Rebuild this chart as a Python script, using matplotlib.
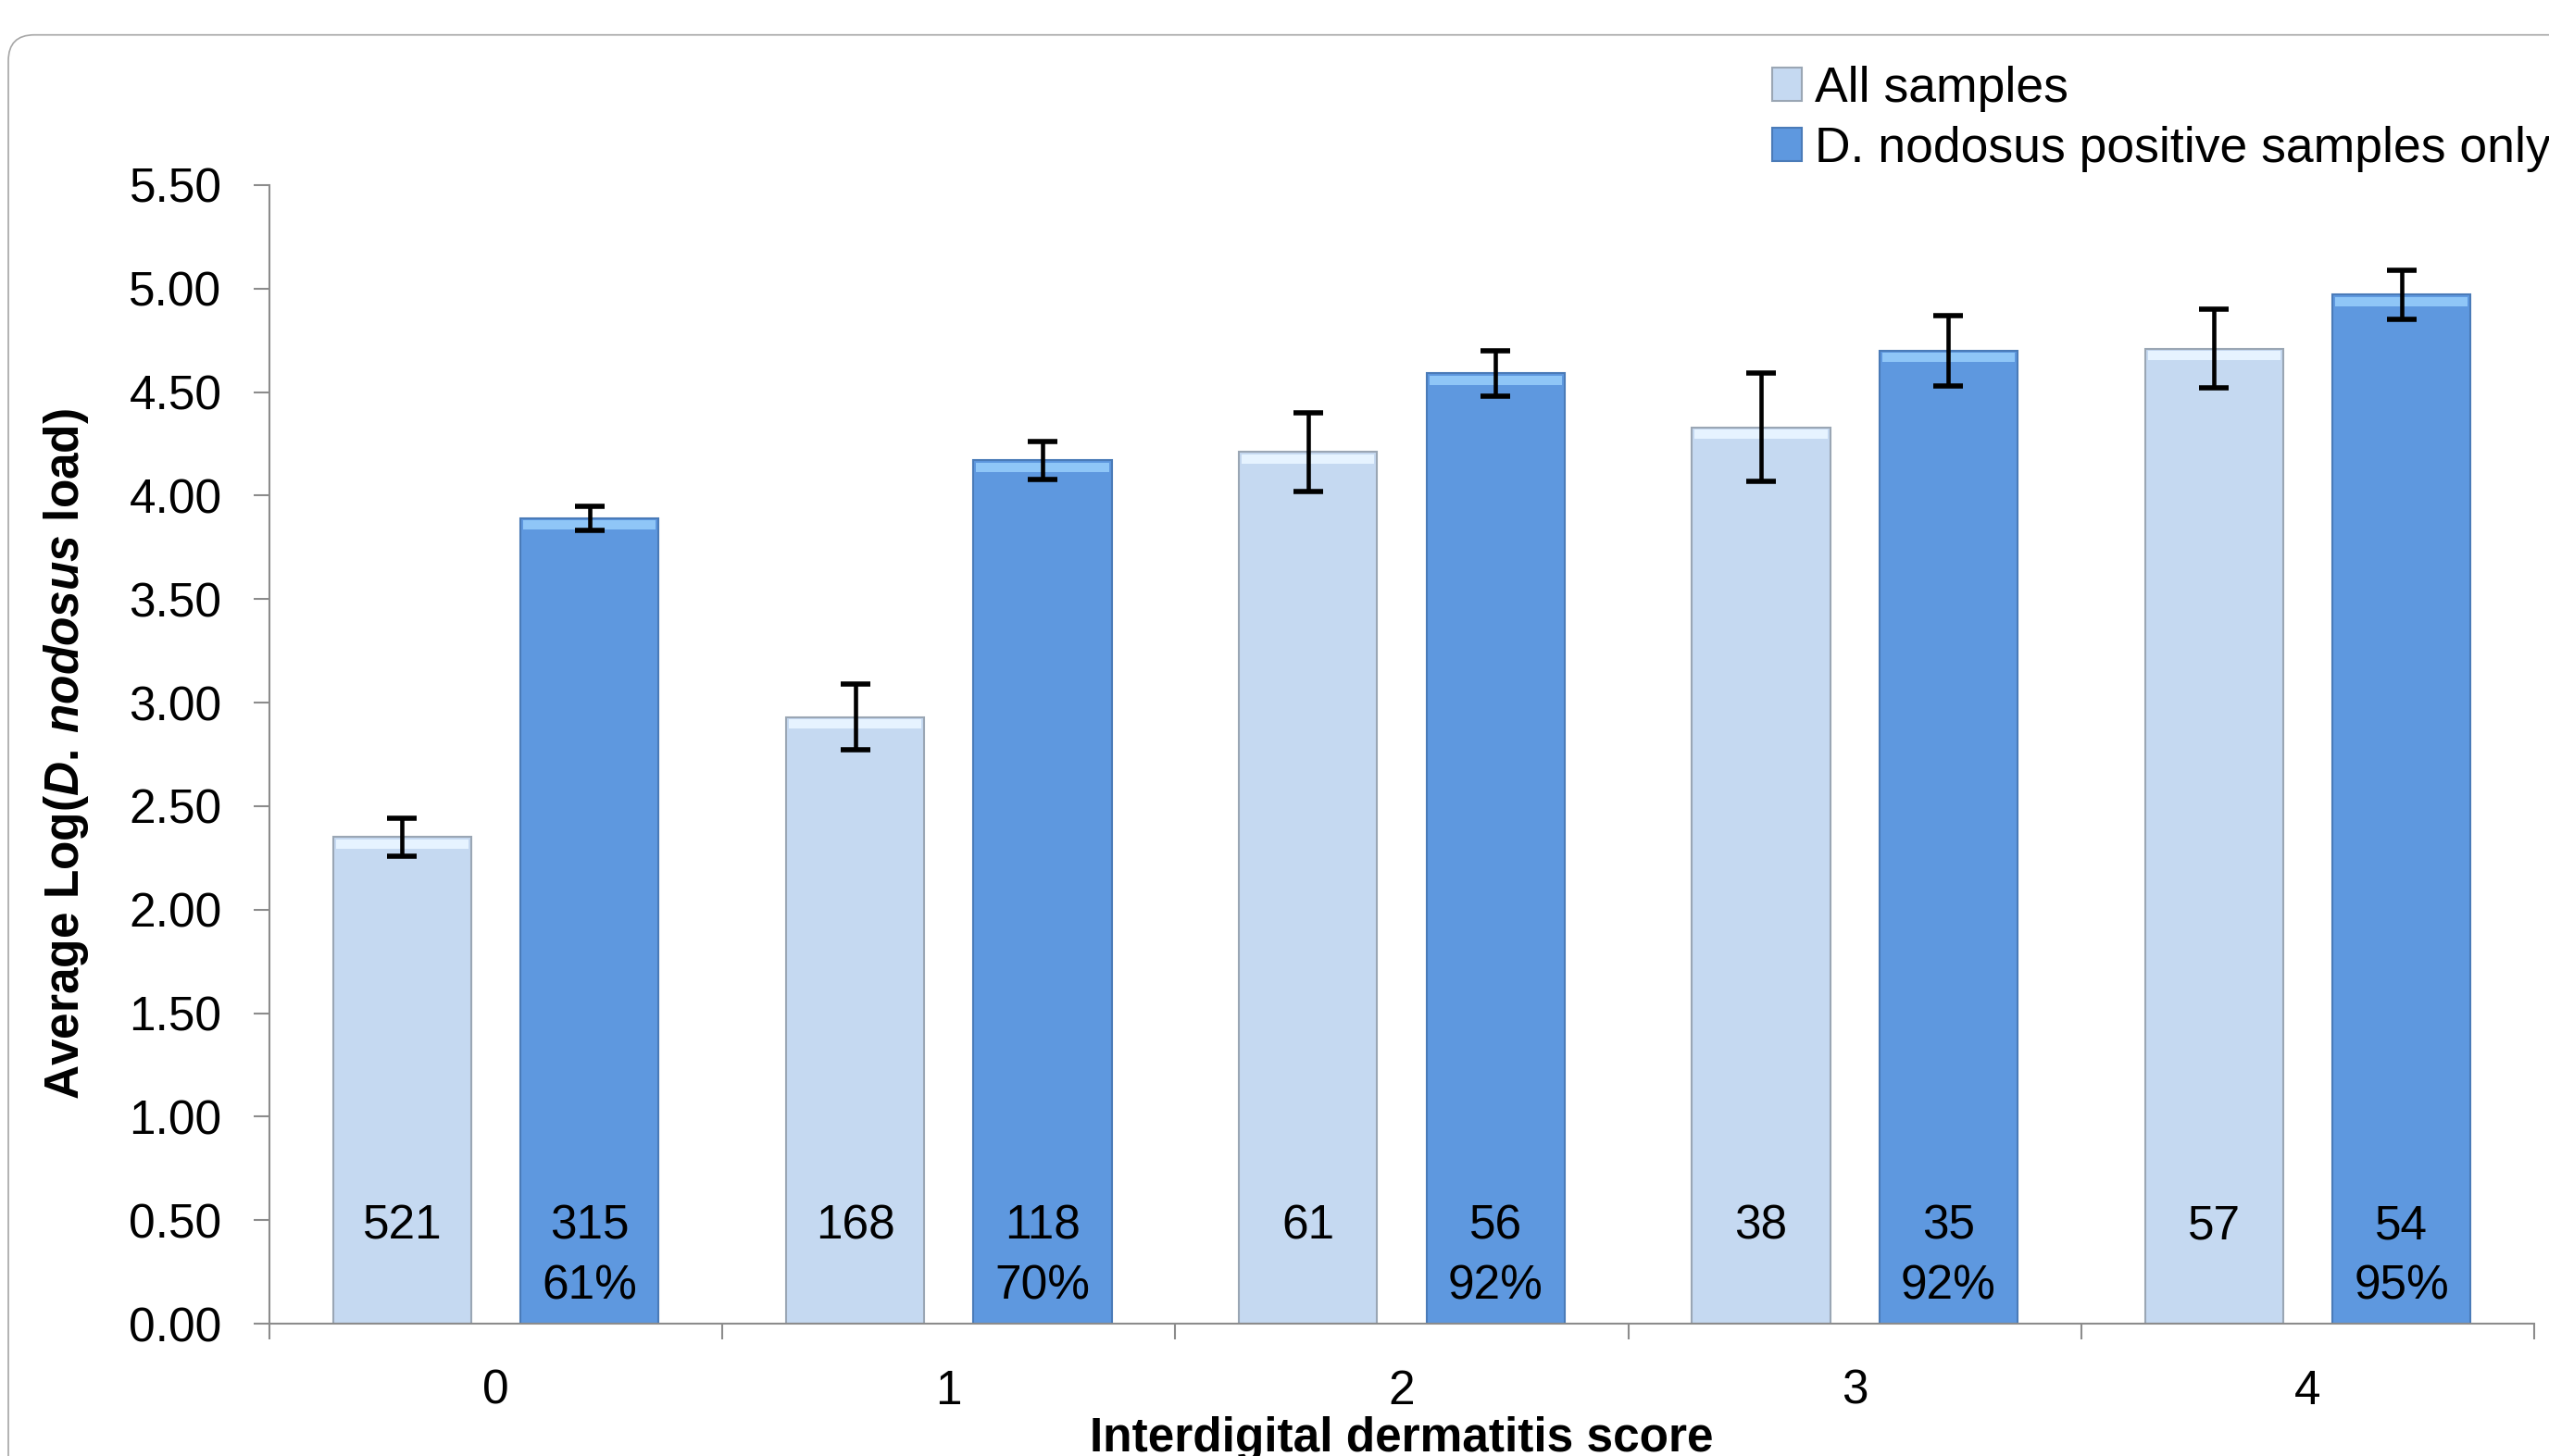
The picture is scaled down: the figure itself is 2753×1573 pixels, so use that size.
import matplotlib.pyplot as plt
import numpy as np
from matplotlib.patches import FancyBboxPatch
from matplotlib.transforms import IdentityTransform
from matplotlib.ticker import FormatStrFormatter

plt.rcParams['font.family'] = 'Liberation Sans'
plt.rcParams['mathtext.fontset'] = 'custom'
plt.rcParams['mathtext.it'] = 'Liberation Sans:italic:bold'
plt.rcParams['mathtext.rm'] = 'Liberation Sans:bold'

# Data
scores = ['0', '1', '2', '3', '4']
all_mean = [2.35, 2.93, 4.21, 4.33, 4.71]
all_err = [0.09, 0.16, 0.19, 0.26, 0.19]
pos_mean = [3.89, 4.17, 4.59, 4.70, 4.97]
pos_err = [0.06, 0.09, 0.11, 0.17, 0.12]
all_n = [521, 168, 61, 38, 57]
pos_n = [315, 118, 56, 35, 54]
pos_pct = ['61%', '70%', '92%', '92%', '95%']

light = '#C5D9F1'
dark = '#5E98DF'
fs = 37

fig = plt.figure(figsize=(27.53, 15.73), dpi=100)
ax = fig.add_axes([0.1057, 0.0909, 0.8885, 0.782])

x = np.arange(len(scores))
off = 0.207
w = 0.305
hl = 0.045  # thickness of the bevel highlight on top of bars

b1 = ax.bar(x - off, all_mean, w, color=light, edgecolor='#9AA6B4', linewidth=1.5,
            label='All samples', zorder=2)
b2 = ax.bar(x + off, pos_mean, w, color=dark, edgecolor='#4A7BB8', linewidth=1.5,
            label='D. nodosus positive samples only', zorder=2)
# bevel highlight strips
ax.bar(x - off, hl, w * 0.96, bottom=np.array(all_mean) - hl - 0.01, color='#E6F3FF',
       linewidth=0, zorder=3)
ax.bar(x + off, hl, w * 0.96, bottom=np.array(pos_mean) - hl - 0.01, color='#8FC6F7',
       linewidth=0, zorder=3)

ax.errorbar(x - off, all_mean, yerr=all_err, fmt='none', ecolor='black',
            elinewidth=3.3, capsize=11.5, capthick=4, zorder=4)
ax.errorbar(x + off, pos_mean, yerr=pos_err, fmt='none', ecolor='black',
            elinewidth=3.3, capsize=11.5, capthick=4, zorder=4)

for i in range(len(scores)):
    ax.text(x[i] - off, 0.47, str(all_n[i]), ha='center', va='center', fontsize=fs, zorder=5)
    ax.text(x[i] + off, 0.47, str(pos_n[i]), ha='center', va='center', fontsize=fs, zorder=5)
    ax.text(x[i] + off, 0.18, pos_pct[i], ha='center', va='center', fontsize=fs, zorder=5)

ax.set_xlim(-0.5, 4.5)
ax.set_ylim(0, 5.5)
ax.set_yticks(np.arange(0, 5.51, 0.5))
ax.yaxis.set_major_formatter(FormatStrFormatter('%.2f'))
ax.set_xticks(x)
ax.set_xticklabels(scores)
ax.set_xticks(np.arange(-0.5, 5, 1), minor=True)

grey = '#8C8C8C'
for s in ['top', 'right']:
    ax.spines[s].set_visible(False)
for s in ['left', 'bottom']:
    ax.spines[s].set_color(grey)
    ax.spines[s].set_linewidth(1.5)

ax.tick_params(axis='y', length=12, width=1.5, color=grey, labelsize=fs, pad=25)
ax.tick_params(axis='x', which='major', length=0, labelsize=fs, pad=35)
ax.tick_params(axis='x', which='minor', length=12, width=1.5, color=grey)

ax.set_ylabel(r'Average Log($\mathit{D.\,nodosus}$ load)', fontsize=fs, fontweight='bold', labelpad=30)
ax.set_xlabel('Interdigital dermatitis score', fontsize=fs, fontweight='bold', labelpad=2)

fig.legend(handles=[b1, b2], loc='upper left', bbox_to_anchor=(0.6953, 0.955),
           frameon=False, fontsize=38.5, handlelength=0.6, handleheight=0.66,
           handletextpad=0.25, labelspacing=0.28, borderpad=0, borderaxespad=0)

# rounded panel frame
fig.add_artist(FancyBboxPatch((9, -100), 2900, 1635.3,
                              boxstyle='round,pad=0,rounding_size=28',
                              transform=IdentityTransform(), fill=False,
                              edgecolor='#A6A6A6', linewidth=1.2, zorder=0))

fig.savefig('out.png', dpi=100)
